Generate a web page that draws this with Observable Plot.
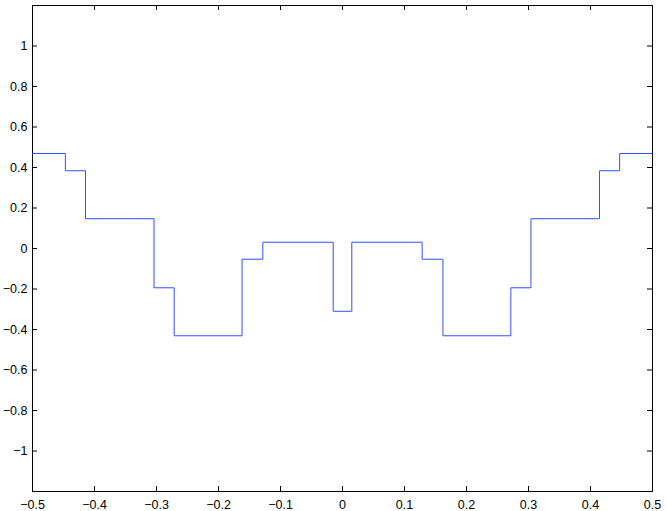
<!DOCTYPE html>
<html>
<head>
<meta charset="utf-8">
<script src="https://cdn.jsdelivr.net/npm/d3@7"></script>
<script src="https://cdn.jsdelivr.net/npm/@observablehq/plot@0.6"></script>
<style>
  html, body { margin: 0; padding: 0; background: #fff; }
  #chart svg { display: block; }
</style>
</head>
<body>
<div id="chart"></div>
<script>
// Step function: breakpoints (x where the level changes) and the level on each interval
const stepX = [-0.5, -0.447, -0.4145, -0.304, -0.2715, -0.162, -0.1285, -0.015, 0.015, 0.1285, 0.162, 0.2715, 0.304, 0.4145, 0.447, 0.5];
const stepY = [0.469, 0.384, 0.147, -0.194, -0.431, -0.053, 0.031, -0.31, 0.031, -0.053, -0.431, -0.194, 0.147, 0.384, 0.469, 0.469];

const xTicks = [-0.5, -0.4, -0.3, -0.2, -0.1, 0, 0.1, 0.2, 0.3, 0.4, 0.5];
const yTicks = [-1, -0.8, -0.6, -0.4, -0.2, 0, 0.2, 0.4, 0.6, 0.8, 1];

const data = stepX.map((x, i) => ({x, y: stepY[i]}));

const W = 667, H = 511;
const mL = 32, mR = 15, mT = 5, mB = 20;
const innerH = H - mT - mB;
const innerW = W - mL - mR;
const tickLen = 5;

const fmt = d => (d < 0 ? "\u2212" : "") + String(+Math.abs(d).toFixed(1));

const chart = Plot.plot({
  width: W,
  height: H,
  marginLeft: mL,
  marginRight: mR,
  marginTop: mT,
  marginBottom: mB,
  style: {fontFamily: "'Liberation Sans', Arial, Helvetica, sans-serif", fontSize: "12.5px", color: "#000", background: "#fff"},
  x: {domain: [-0.5, 0.5]},
  y: {domain: [-1.2, 1.2]},
  marks: [
    Plot.frame({stroke: "#000", strokeWidth: 1}),
    // inward ticks: bottom and top
    Plot.tickX(xTicks, {x: d => d, stroke: "#000", insetTop: innerH - tickLen}),
    Plot.tickX(xTicks, {x: d => d, stroke: "#000", insetBottom: innerH - tickLen}),
    // inward ticks: left and right
    Plot.tickY(yTicks, {y: d => d, stroke: "#000", insetRight: innerW - tickLen}),
    Plot.tickY(yTicks, {y: d => d, stroke: "#000", insetLeft: innerW - tickLen}),
    Plot.axisX(xTicks, {anchor: "bottom", tickSize: 0, tickPadding: 9, tickFormat: fmt, label: null}),
    Plot.axisY(yTicks, {anchor: "left", tickSize: 0, tickPadding: 5, tickFormat: fmt, label: null}),
    Plot.line(data, {x: "x", y: "y", curve: "step-after", stroke: "#3050ff", strokeWidth: 1})
  ]
});
document.getElementById("chart").appendChild(chart);
</script>
</body>
</html>
